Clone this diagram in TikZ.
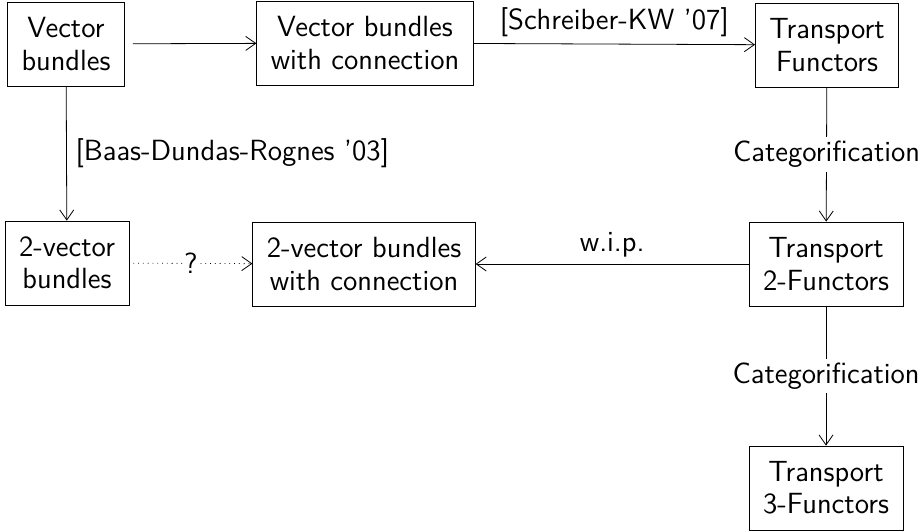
\documentclass[tikz,border=0pt]{standalone}
\usepackage{tikz}
\usetikzlibrary{arrows.meta}
\tikzset{>={Straight Barb[length=5pt,width=7pt]}}
\tikzset{
  box/.style={draw,align=center,inner xsep=7pt,minimum height=42pt},
  lab/.style={fill=white,inner sep=2pt}
}

\begin{document}
\begin{tikzpicture}[x=0.5pt,y=-0.5pt,font=\sffamily\fontsize{14.6}{16.2}\selectfont]
    \useasboundingbox (0,0) rectangle (920,530);

    \coordinate (c1) at (66, 44);
    \coordinate (c2) at (365, 43);
    \coordinate (c3) at (827, 45);
    \coordinate (c4) at (67, 263);
    \coordinate (c5) at (364, 264);
    \coordinate (c6) at (826, 264);
    \coordinate (c7) at (826, 488);

    \node [box] (vb) at (c1) {Vector\\bundles};
    \node [box] (vbc) at (c2) {Vector bundles\\with connection};
    \node [box] (tf) at (c3) {Transport\\Functors};
    \node [box] (tvb) at (c4) {2-vector\\bundles};
    \node [box] (tvbc) at (c5) {2-vector bundles\\with connection};
    \node [box] (tf2) at (c6) {Transport\\2-Functors};
    \node [box] (tf3) at (c7) {Transport\\3-Functors};

    \draw [->,shorten <=4pt] (vb) -- (vbc);
    \draw [->] (vbc) -- node [above] {[Schreiber-KW '07]} (tf);
    \draw [->] (vb) -- node [right,xshift=1pt] {[Baas-Dundas-Rognes '03]} (tvb);
    \draw [->] (tf) -- node [lab] {Categorification} (tf2);
    \draw [->] (tf2) -- node [above] {w.i.p.} (tvbc);
    \draw [->,dotted,shorten <=2pt] (tvb) -- node [lab,inner sep=0pt] {?} (tvbc);
    \draw [->] (tf2) -- node [lab] {Categorification} (tf3);

  \end{tikzpicture}
\end{document}
